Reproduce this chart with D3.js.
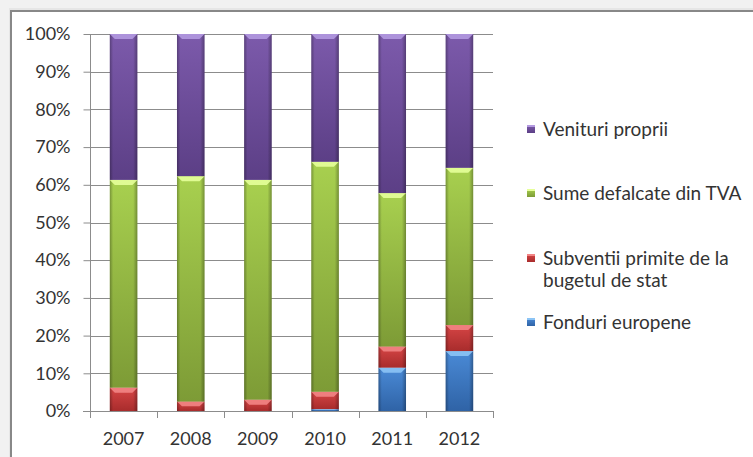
<!DOCTYPE html>
<html><head><meta charset="utf-8">
<script src="https://cdn.jsdelivr.net/npm/d3@7"></script>
<style>html,body{margin:0;padding:0;background:#f1f1f1;overflow:hidden}</style>
</head><body>
<svg id="c" width="753" height="457"></svg>
<script>
const years = ["2007","2008","2009","2010","2011","2012"];
const fonduri   = [0, 0, 0, 0.5, 11.5, 15.9];
const subventii = [6.2, 2.5, 3.0, 4.6, 5.6, 6.9];
const sume      = [55.1, 59.8, 58.3, 61.0, 40.7, 41.7];
const venituri  = [38.7, 37.7, 38.7, 33.9, 42.2, 35.5];
const seriesNames = ["Fonduri europene","Subventii primite de la bugetul de stat","Sume defalcate din TVA","Venituri proprii"];
const yTicks = [0,0.1,0.2,0.3,0.4,0.5,0.6,0.7,0.8,0.9,1];

const colors = {
  "Fonduri europene": {top:"#8cc4f5", a:"#4a8ad6", b:"#2f63a6"},
  "Subventii primite de la bugetul de stat": {top:"#f28585", a:"#d64545", b:"#a82c2c"},
  "Sume defalcate din TVA": {top:"#e6ff9a", a:"#a8d04f", b:"#7d9b36"},
  "Venituri proprii": {top:"#b399e0", a:"#7c5aab", b:"#5c3f86"}
};

const rows = years.map((y,i)=>({year:y,
  "Fonduri europene":fonduri[i],
  "Subventii primite de la bugetul de stat":subventii[i],
  "Sume defalcate din TVA":sume[i],
  "Venituri proprii":venituri[i]}));

const svg = d3.select("#c");
const font = "Lato, 'Open Sans', sans-serif";

// frame
svg.append("rect").attr("x",0).attr("y",0).attr("width",753).attr("height",457).attr("fill","#f1f1f1");
svg.append("rect").attr("x",9).attr("y",8).attr("width",760).attr("height",470).attr("fill","#e6e6e6");
svg.append("rect").attr("x",11).attr("y",11).attr("width",760).attr("height",470)
  .attr("fill","#fff").attr("stroke","#888").attr("stroke-width",2);

const x = d3.scaleBand().domain(years).range([90,493]).paddingInner(0.59).paddingOuter(0.295);
const y = d3.scaleLinear().domain([0,1]).range([411,34]);

const defs = svg.append("defs");
Object.entries(colors).forEach(([k,c],i)=>{
  const g = defs.append("linearGradient").attr("id","v"+i).attr("x1",0).attr("y1",0).attr("x2",0).attr("y2",1);
  g.append("stop").attr("offset","0%").attr("stop-color",c.a);
  g.append("stop").attr("offset","100%").attr("stop-color",c.b);
});
const h = defs.append("linearGradient").attr("id","hshade").attr("x1",0).attr("y1",0).attr("x2",1).attr("y2",0);
h.append("stop").attr("offset","0%").attr("stop-color","#000").attr("stop-opacity",0.28);
h.append("stop").attr("offset","12%").attr("stop-color","#000").attr("stop-opacity",0.0);
h.append("stop").attr("offset","85%").attr("stop-color","#000").attr("stop-opacity",0.0);
h.append("stop").attr("offset","100%").attr("stop-color","#000").attr("stop-opacity",0.3);

// gridlines
svg.append("g").selectAll("line").data(yTicks).join("line")
  .attr("x1",90).attr("x2",493).attr("y1",d=>Math.round(y(d))+0.5).attr("y2",d=>Math.round(y(d))+0.5)
  .attr("stroke","#8c8c8c").attr("stroke-width",1);

// y axis
const ya = svg.append("g").attr("transform","translate(90.5,0)")
  .call(d3.axisLeft(y).tickValues(yTicks).tickFormat(d3.format(".0%")).tickSize(7).tickPadding(13));
ya.select(".domain").attr("stroke","#8c8c8c").attr("d","M0,"+y(1)+"V"+(y(0)+7));
ya.selectAll(".tick line").attr("stroke","#8c8c8c");
ya.selectAll(".tick text").attr("font-family",font).attr("font-size",18).attr("fill","#333");

// bars
const stack = d3.stack().keys(seriesNames).offset(d3.stackOffsetExpand);
const stacked = stack(rows);
const bw = x.bandwidth();
stacked.forEach((s,si)=>{
  const c = colors[s.key];
  const g = svg.append("g");
  const segs = s.filter(d=>d[1]-d[0]>0.0001);
  g.selectAll("rect.b").data(segs).join("rect").attr("class","b")
    .attr("x",d=>x(d.data.year)).attr("width",bw)
    .attr("y",d=>y(d[1])).attr("height",d=>y(d[0])-y(d[1]))
    .attr("fill","url(#v"+si+")");
  g.selectAll("rect.s").data(segs).join("rect").attr("class","s")
    .attr("x",d=>x(d.data.year)).attr("width",bw)
    .attr("y",d=>y(d[1])).attr("height",d=>y(d[0])-y(d[1]))
    .attr("fill","url(#hshade)");
  g.selectAll("path.t").data(segs).join("path").attr("class","t")
    .attr("d",d=>{const x0=x(d.data.year), yt=y(d[1]), hh=Math.min(5,(y(d[0])-yt)/2);
      return `M${x0},${yt}H${x0+bw}L${x0+bw-5},${yt+hh}H${x0+5}Z`;})
    .attr("fill",c.top).attr("opacity",0.9);
});

// x axis
const xa = svg.append("g");
xa.append("line").attr("x1",83).attr("x2",493).attr("y1",411.5).attr("y2",411.5).attr("stroke","#8c8c8c");
const bounds = years.map(d=>x(d)-x.step()*x.paddingInner()/2).concat([x(years[years.length-1])+bw+x.step()*x.paddingInner()/2]);
xa.selectAll("line.tk").data(bounds).join("line").attr("class","tk")
  .attr("x1",d=>Math.round(d)+0.5).attr("x2",d=>Math.round(d)+0.5).attr("y1",411).attr("y2",418).attr("stroke","#8c8c8c");
xa.selectAll("text").data(years).join("text")
  .attr("x",d=>x(d)+bw/2).attr("y",445).attr("text-anchor","middle")
  .attr("font-family",font).attr("font-size",18).attr("fill","#333").text(d=>d);

// legend
const legendItems = [
  {key:"Venituri proprii", lines:["Venituri proprii"], y:129, ci:3},
  {key:"Sume defalcate din TVA", lines:["Sume defalcate din TVA"], y:193, ci:2},
  {key:"Subventii primite de la bugetul de stat", lines:["Subventii primite de la","bugetul de stat"], y:258, ci:1},
  {key:"Fonduri europene", lines:["Fonduri europene"], y:322, ci:0}
];
const lg = svg.append("g");
legendItems.forEach(it=>{
  const c = colors[it.key];
  lg.append("rect").attr("x",527).attr("y",it.y-4).attr("width",8).attr("height",8).attr("fill","url(#v"+it.ci+")");
  lg.append("rect").attr("x",527).attr("y",it.y-4).attr("width",8).attr("height",2).attr("fill",c.top);
  it.lines.forEach((l,li)=>{
    lg.append("text").attr("x",543).attr("y",it.y+li*22).attr("dy","0.35em")
      .attr("font-family",font).attr("font-size",19).attr("fill","#333").text(l);
  });
});
</script>
</body></html>
